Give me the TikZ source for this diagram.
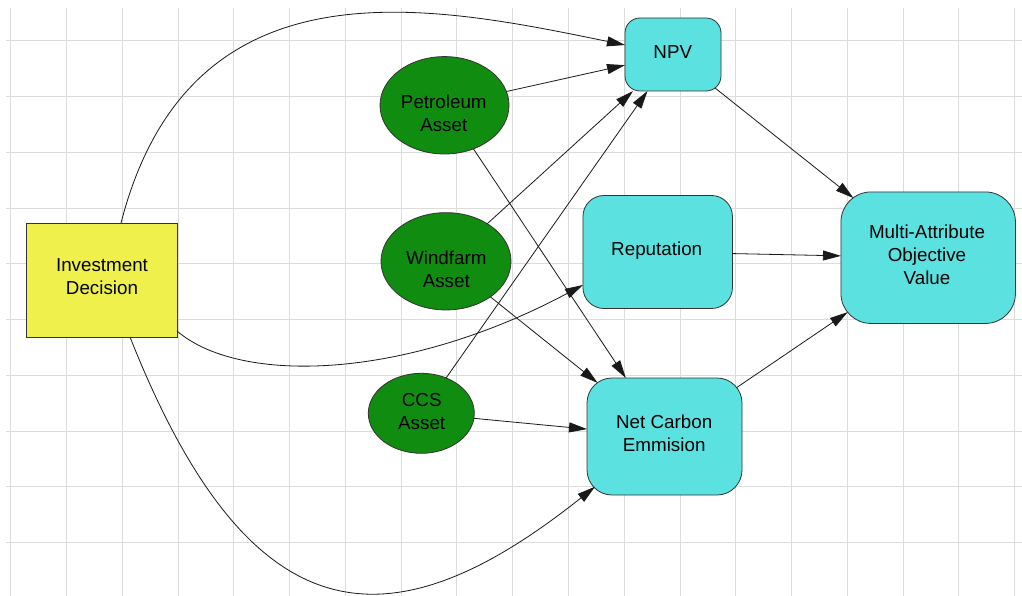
\documentclass[tikz,border=0pt]{standalone}
\usepackage{fontspec}
\setmainfont{Liberation Sans}
\usetikzlibrary{arrows.meta,shapes.geometric}
\definecolor{cyanbox}{HTML}{5CE1E1}
\definecolor{yellowbox}{HTML}{F0F04C}
\definecolor{greenbox}{HTML}{108C10}
\definecolor{gridgray}{HTML}{DCDCDC}
\definecolor{edgegray}{HTML}{333333}
\begin{document}
\begin{tikzpicture}[x=1pt,y=-1pt,
  gridline/.style={draw=gridgray,line width=1pt},
  box/.style={rectangle,draw=edgegray,line width=0.8pt,inner sep=0pt,outer sep=0pt},
  decision/.style={box,fill=yellowbox},
  obj/.style={box,fill=cyanbox},
  chance/.style={ellipse,draw=edgegray,line width=0.8pt,fill=greenbox,inner sep=0pt,outer sep=0pt},
  lbl/.style={font=\fontsize{18.8}{23}\selectfont,align=center,inner sep=0pt},
  arr/.style={draw=black!90,line width=0.8pt,-{Triangle[length=18pt,width=10pt]}},
]
\useasboundingbox (0,0) rectangle (1022,596);
\fill[white] (0,0) rectangle (1022,596);
\foreach \i in {0,...,18} \draw[gridline] ({10.7+55.78*\i},8) -- ({10.7+55.78*\i},596);
\foreach \j in {0,...,9} \draw[gridline] (6,{40.7+55.78*\j}) -- (1022,{40.7+55.78*\j});

\node[decision,minimum width=151pt,minimum height=114pt] (inv) at (101.5,280) {};
\node[obj,rounded corners=15pt,minimum width=96pt,minimum height=73pt] (npv) at (673,54.5) {};
\node[obj,rounded corners=21pt,minimum width=149.5pt,minimum height=113pt] (rep) at (657.7,252) {};
\node[obj,rounded corners=25pt,minimum width=155pt,minimum height=117pt] (nce) at (664.5,436.5) {};
\node[obj,rounded corners=30pt,minimum width=174.5pt,minimum height=131.5pt] (mao) at (928.2,257.7) {};
\node[chance,minimum width=129pt,minimum height=97.4pt] (pet) at (444.5,105.3) {};
\node[chance,minimum width=130pt,minimum height=97.3pt] (wind) at (446,261.3) {};
\node[chance,minimum width=106pt,minimum height=80pt] (ccs) at (421.3,413.3) {};

\node[lbl] (tinv) at (102,276.7) {Investment\\Decision};
\node[lbl] (tnpv) at (672.8,52) {NPV};
\node[lbl,anchor=base] (trep) at (656.7,255.7) {Reputation};
\node[lbl] (tnce) at (664.2,433.7) {Net Carbon\\Emmision};
\node[lbl] (tmao) at (927,254.5) {Multi-Attribute\\Objective\\Value};
\node[lbl] (tpet) at (443.8,113.7) {Petroleum\\Asset};
\node[lbl] (twind) at (446.3,269.5) {Windfarm\\Asset};
\node[lbl] (tccs) at (421.7,411.7) {CCS\\Asset};

\draw[arr] ([shift={(19.5,0)}]inv.north) .. controls (190,-45) and (430,5) .. ([shift={(0,-9.5)}]npv.west);
\draw[arr] ([shift={(0,51)}]inv.east) .. controls (240,385) and (405,380) .. ([shift={(0,33)}]rep.west);
\draw[arr] ([shift={(28.5,0)}]inv.south) .. controls (250,640) and (390,650) .. ([shift={(8,-8.3)}]nce.south west);

\draw[arr] (pet) -- (npv);
\draw[arr] (wind) -- (npv);
\draw[arr] (ccs) -- (npv);
\draw[arr] (pet) -- (nce);
\draw[arr,shorten >=-7.8pt] (wind) -- (nce);
\draw[arr] (ccs) -- (nce);
\draw[arr,shorten <=-4.9pt,shorten >=-9.8pt] (npv) -- (mao);
\draw[arr] (rep) -- (mao);
\draw[arr,shorten <=-6.4pt,shorten >=-8.2pt] (nce) -- (mao);
\end{tikzpicture}
\end{document}
